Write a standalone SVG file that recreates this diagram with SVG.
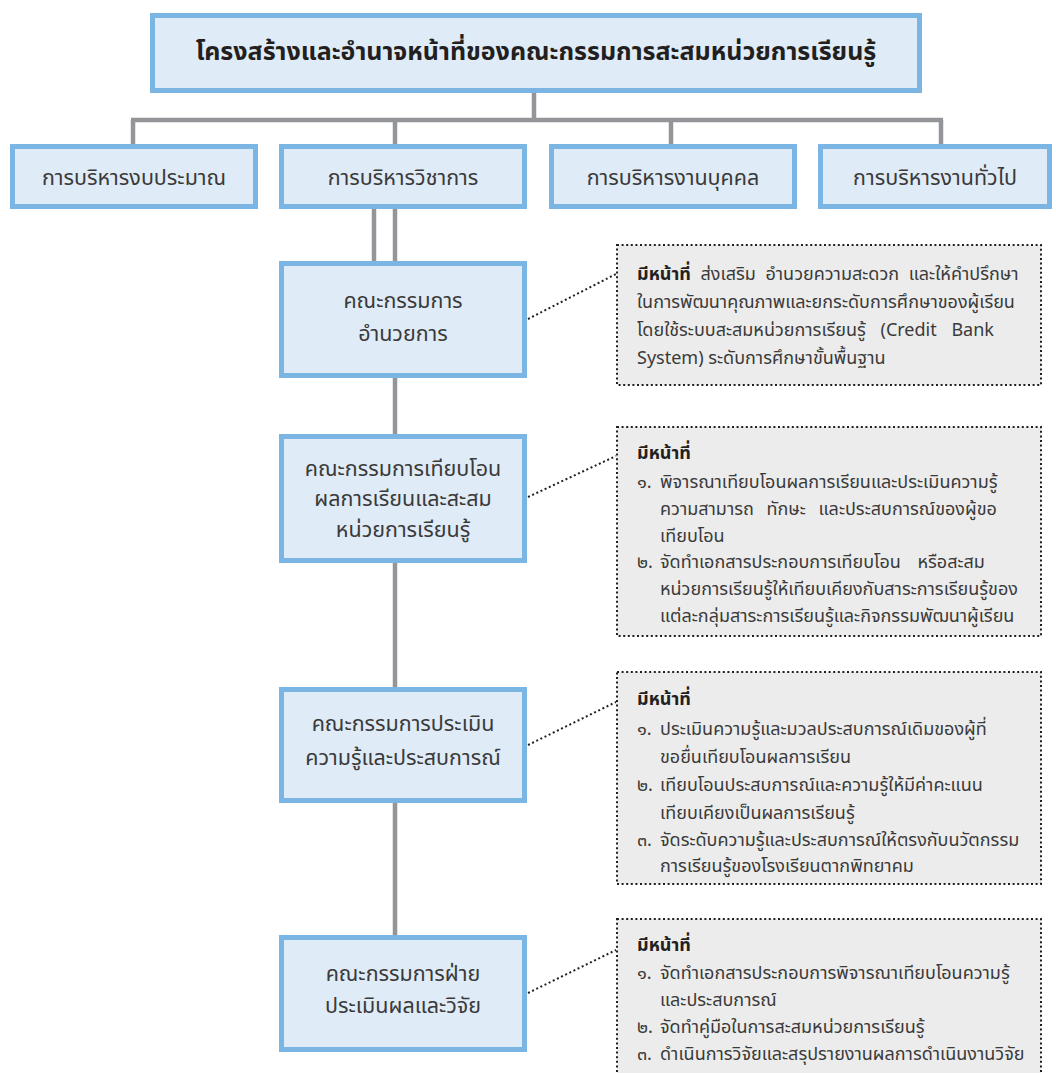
<svg xmlns="http://www.w3.org/2000/svg" width="1056" height="1073" viewBox="0 0 1056 1073">
<defs>
<style>
.box{fill:#dfebf7;stroke:#7ab5e3;stroke-width:5}
.ln{stroke:#939598;stroke-width:4.5;fill:none}
.dot{stroke:#231f20;stroke-width:2;stroke-dasharray:2 2.6;fill:none}
.note{fill:#ececec;stroke:#231f20;stroke-width:2;stroke-dasharray:2 2.6}
.t{font-family:"Noto Sans Thai","Tahoma","Noto Sans","DejaVu Sans",sans-serif;fill:#3a3a3a}
.title{font-size:25px;font-weight:bold;fill:#231f20;text-anchor:middle}
.top{font-size:21.5px;text-anchor:middle}
.lab{font-size:21.5px;text-anchor:middle}
.nt{font-size:18px;fill:#3a3a3a}
.b{font-weight:bold;fill:#231f20}
</style>
</defs>
<rect width="1056" height="1073" fill="#ffffff"/>
<g id="connectors">
<line class="ln" x1="534" y1="93" x2="534" y2="120"/>
<line class="ln" x1="131" y1="120" x2="943" y2="120"/>
<line class="ln" x1="133" y1="120" x2="133" y2="145"/>
<line class="ln" x1="395" y1="120" x2="395" y2="145"/>
<line class="ln" x1="671" y1="120" x2="671" y2="145"/>
<line class="ln" x1="941" y1="120" x2="941" y2="145"/>
<line class="ln" x1="374" y1="208" x2="374" y2="262"/>
<line class="ln" x1="395" y1="208" x2="395" y2="262"/>
<line class="ln" x1="395" y1="377" x2="395" y2="435"/>
<line class="ln" x1="395" y1="562" x2="395" y2="688"/>
<line class="ln" x1="395" y1="802" x2="395" y2="936"/>
<line class="dot" x1="528" y1="319" x2="616" y2="274"/>
<line class="dot" x1="528" y1="497" x2="616" y2="456"/>
<line class="dot" x1="528" y1="745" x2="616" y2="702"/>
<line class="dot" x1="528" y1="993" x2="616" y2="950"/>
</g>
<g id="title">
<rect class="box" x="152.5" y="15.5" width="767" height="75"/>
<text class="t title" x="536" y="60">โครงสร้างและอำนาจหน้าที่ของคณะกรรมการสะสมหน่วยการเรียนรู้</text>
</g>
<g id="budget">
<rect class="box" x="12.5" y="146.5" width="243" height="60"/>
<text class="t top" x="134" y="185">การบริหารงบประมาณ</text>
</g>
<g id="academic">
<rect class="box" x="281.5" y="146.5" width="243" height="60"/>
<text class="t top" x="403" y="185">การบริหารวิชาการ</text>
</g>
<g id="personnel">
<rect class="box" x="551.5" y="146.5" width="243" height="60"/>
<text class="t top" x="673" y="185">การบริหารงานบุคคล</text>
</g>
<g id="general">
<rect class="box" x="820.5" y="146.5" width="229" height="60"/>
<text class="t top" x="935" y="185">การบริหารงานทั่วไป</text>
</g>
<g id="committee-facilitate">
<rect class="box" x="281.5" y="263.5" width="243" height="112"/>
<text class="t lab" x="403" y="308">คณะกรรมการ</text>
<text class="t lab" x="403" y="341">อำนวยการ</text>
</g>
<g id="committee-transfer">
<rect class="box" x="281.5" y="436.5" width="243" height="124"/>
<text class="t lab" x="403" y="476">คณะกรรมการเทียบโอน</text>
<text class="t lab" x="403" y="506">ผลการเรียนและสะสม</text>
<text class="t lab" x="403" y="537">หน่วยการเรียนรู้</text>
</g>
<g id="committee-assess">
<rect class="box" x="281.5" y="689.5" width="243" height="111"/>
<text class="t lab" x="403" y="731">คณะกรรมการประเมิน</text>
<text class="t lab" x="403" y="765">ความรู้และประสบการณ์</text>
</g>
<g id="committee-research">
<rect class="box" x="281.5" y="937.5" width="243" height="112"/>
<text class="t lab" x="403" y="981">คณะกรรมการฝ่าย</text>
<text class="t lab" x="403" y="1013">ประเมินผลและวิจัย</text>
</g>
<g id="note-facilitate">
<rect class="note" x="617" y="245" width="424" height="140"/>
<text class="t nt" x="637" y="280" word-spacing="5"><tspan class="b">มีหน้าที่</tspan> ส่งเสริม อำนวยความสะดวก และให้คำปรึกษา</text>
<text class="t nt" x="637" y="308">ในการพัฒนาคุณภาพและยกระดับการศึกษาของผู้เรียน</text>
<text class="t nt" x="637" y="336" word-spacing="10">โดยใช้ระบบสะสมหน่วยการเรียนรู้ (Credit Bank</text>
<text class="t nt" x="637" y="364">System) ระดับการศึกษาขั้นพื้นฐาน</text>
</g>
<g id="note-transfer">
<rect class="note" x="617" y="427" width="424" height="209"/>
<text class="t nt b" x="637" y="459">มีหน้าที่</text>
<text class="t nt" x="637" y="488">๑.</text>
<text class="t nt" x="660" y="488">พิจารณาเทียบโอนผลการเรียนและประเมินความรู้</text>
<text class="t nt" x="660" y="515" word-spacing="8">ความสามารถ ทักษะ และประสบการณ์ของผู้ขอ</text>
<text class="t nt" x="660" y="542">เทียบโอน</text>
<text class="t nt" x="637" y="568">๒.</text>
<text class="t nt" x="660" y="568" word-spacing="12">จัดทำเอกสารประกอบการเทียบโอน หรือสะสม</text>
<text class="t nt" x="660" y="595">หน่วยการเรียนรู้ให้เทียบเคียงกับสาระการเรียนรู้ของ</text>
<text class="t nt" x="660" y="622">แต่ละกลุ่มสาระการเรียนรู้และกิจกรรมพัฒนาผู้เรียน</text>
</g>
<g id="note-assess">
<rect class="note" x="617" y="672" width="424" height="212"/>
<text class="t nt b" x="637" y="705">มีหน้าที่</text>
<text class="t nt" x="637" y="735">๑.</text>
<text class="t nt" x="660" y="735">ประเมินความรู้และมวลประสบการณ์เดิมของผู้ที่</text>
<text class="t nt" x="660" y="763">ขอยื่นเทียบโอนผลการเรียน</text>
<text class="t nt" x="637" y="791">๒.</text>
<text class="t nt" x="660" y="791">เทียบโอนประสบการณ์และความรู้ให้มีค่าคะแนน</text>
<text class="t nt" x="660" y="819">เทียบเคียงเป็นผลการเรียนรู้</text>
<text class="t nt" x="637" y="846">๓.</text>
<text class="t nt" x="660" y="846">จัดระดับความรู้และประสบการณ์ให้ตรงกับนวัตกรรม</text>
<text class="t nt" x="660" y="872">การเรียนรู้ของโรงเรียนตากพิทยาคม</text>
</g>
<g id="note-research">
<rect class="note" x="617" y="919" width="424" height="170"/>
<text class="t nt b" x="637" y="951">มีหน้าที่</text>
<text class="t nt" x="637" y="979">๑.</text>
<text class="t nt" x="660" y="979">จัดทำเอกสารประกอบการพิจารณาเทียบโอนความรู้</text>
<text class="t nt" x="660" y="1006">และประสบการณ์</text>
<text class="t nt" x="637" y="1033">๒.</text>
<text class="t nt" x="660" y="1033">จัดทำคู่มือในการสะสมหน่วยการเรียนรู้</text>
<text class="t nt" x="637" y="1060">๓.</text>
<text class="t nt" x="660" y="1060">ดำเนินการวิจัยและสรุปรายงานผลการดำเนินงานวิจัย</text>
</g>
</svg>
